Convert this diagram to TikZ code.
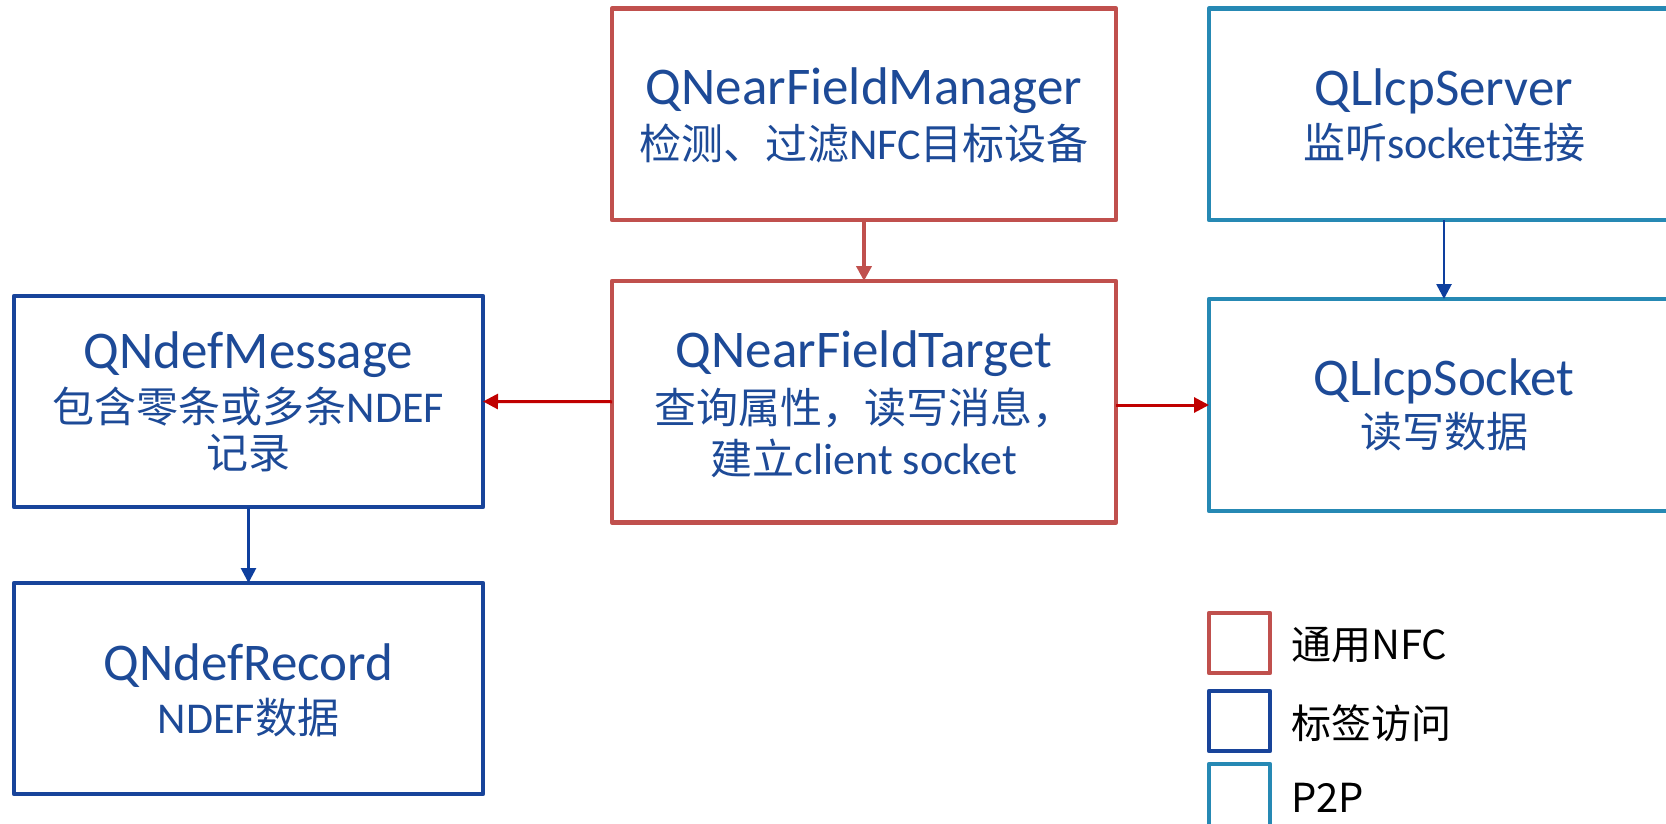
\documentclass[tikz,border=0pt]{standalone}
\usepackage{fontspec}
\setmainfont{Carlito}
\newfontfamily\cjk{Noto Sans CJK SC}
\usetikzlibrary{arrows.meta}
\definecolor{nfcred}{HTML}{C0504D}
\definecolor{tagblue}{HTML}{18449A}
\definecolor{ptwo}{HTML}{2689B4}
\definecolor{txtblue}{HTML}{1D4A97}
\definecolor{arrred}{HTML}{C00000}
\definecolor{arrblue}{HTML}{0E3F9E}
\newcommand\zh[1]{{\cjk\fontsize{42}{48}\selectfont #1}}
\begin{document}
\begin{tikzpicture}[x=1pt,y=-1pt,
  box/.style={draw, rectangle, line width=4.5pt, line join=round, inner sep=0pt, outer sep=0pt},
  redbox/.style={box, draw=nfcred},
  bluebox/.style={box, draw=tagblue},
  tealbox/.style={box, draw=ptwo},
  ttl/.style={anchor=base, text=txtblue, inner sep=0pt, font=\fontsize{53}{60}\selectfont},
  sub/.style={anchor=base, text=txtblue, inner sep=0pt, font=\fontsize{44}{48}\selectfont},
  leg/.style={anchor=base west, text=black, inner sep=0pt, font=\cjk\fontsize{40}{46}\selectfont},
  redlink/.style={draw=nfcred, line width=4pt, -{Triangle[length=15pt,width=15pt]}},
  redthin/.style={draw=arrred, line width=3pt, -{Triangle[length=15pt,width=15pt]}},
  bluelink/.style={draw=arrblue, line width=2.7pt, -{Triangle[length=15pt,width=15pt]}}
]
\useasboundingbox (0,0) rectangle (1666,824);

% boxes
\node[redbox, minimum width=504pt, minimum height=211.5pt] (mgr) at (864,114.25) {};
\node[redbox, minimum width=504pt, minimum height=241.5pt] (tgt) at (864,401.75) {};
\node[tealbox, minimum width=470pt, minimum height=211.5pt] (srv) at (1444,114.25) {};
\node[tealbox, minimum width=470pt, minimum height=212pt] (sock) at (1444,405) {};
\node[bluebox, minimum width=469pt, minimum height=211pt] (msg) at (248.5,401.5) {};
\node[bluebox, minimum width=469pt, minimum height=211pt] (rec) at (248.5,688.5) {};

% texts
\node[ttl] (mgrT) at (864,105) {QNearFieldManager};
\node[sub] (mgrS) at (864,160) {\zh{检测、过滤}NFC\zh{目标设备}};

\node[ttl] (tgtT) at (864,367) {QNearFieldTarget};
\node[sub] (tgtS1) at (864,423) {\zh{查询属性，读写消息，}};
\node[sub] (tgtS2) at (864,474) {\zh{建立}client socket};

\node[ttl] (srvT) at (1444,106) {QLlcpServer};
\node[sub] (srvS) at (1444,159) {\zh{监听}socket\zh{连接}};

\node[ttl] (sockT) at (1444,395) {QLlcpSocket};
\node[sub] (sockS) at (1444,447) {\zh{读写数据}};

\node[ttl] (msgT) at (248.5,368) {QNdefMessage};
\node[sub] (msgS1) at (248.5,422) {\zh{包含零条或多条}NDEF};
\node[sub] (msgS2) at (248.5,468) {\zh{记录}};

\node[ttl] (recT) at (248.5,680) {QNdefRecord};
\node[sub] (recS) at (248.5,733) {NDEF\zh{数据}};

% connectors
\draw[redlink] (mgr.south) -- (tgt.north);
\draw[redthin] (tgt.west) -- (msg.east);
\draw[redthin] (tgt.east |- sock.west) -- (sock.west);
\draw[bluelink] (srv.south) -- (sock.north);
\draw[bluelink] (msg.south) -- (rec.north);

% legend
\node[redbox, minimum width=61pt, minimum height=60pt] (lg1) at (1239.5,643) {};
\node[bluebox, minimum width=61pt, minimum height=60pt] (lg2) at (1239.5,721) {};
\node[tealbox, minimum width=61pt, minimum height=62pt] (lg3) at (1239.5,795) {};
\node[leg] (lg1t) at (1291,659) {通用NFC};
\node[leg] (lg2t) at (1291,738) {标签访问};
\node[leg] (lg3t) at (1291,812) {P2P};
\end{tikzpicture}
\end{document}
